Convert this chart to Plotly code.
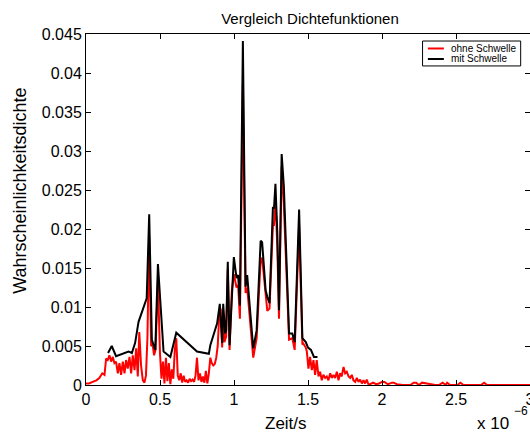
import plotly.graph_objects as go

# x values in units of 1e-6 s
black_t = [0.149, 0.174, 0.203, 0.287, 0.31, 0.332, 0.355, 0.41, 0.427, 0.445, 0.468, 0.486,
           0.524, 0.57, 0.61, 0.75, 0.83, 0.84, 0.886, 0.904, 0.92, 0.927, 0.94, 0.947, 0.958,
           0.97, 0.999, 1.017, 1.028, 1.04, 1.06, 1.078, 1.089, 1.107, 1.13, 1.153, 1.18, 1.19,
           1.214, 1.225, 1.24, 1.263, 1.27, 1.28, 1.293, 1.304, 1.322, 1.337, 1.372, 1.394,
           1.41, 1.44, 1.462, 1.485, 1.5, 1.52, 1.54, 1.564]
black_p = [0.0041, 0.005, 0.0037, 0.0043, 0.0041, 0.0054, 0.0081, 0.0111, 0.0219, 0.0058,
           0.0045, 0.0155, 0.0043, 0.0036, 0.0067, 0.0043, 0.004, 0.0051, 0.0079, 0.0104,
           0.0054, 0.0104, 0.0066, 0.007, 0.0158, 0.0051, 0.0164, 0.0137, 0.0141, 0.0102,
           0.0441, 0.0126, 0.0141, 0.0096, 0.0047, 0.007, 0.0185, 0.0183, 0.0121, 0.0113,
           0.0105, 0.0228, 0.0226, 0.0258, 0.0194, 0.0096, 0.0296, 0.0254, 0.0066, 0.0066,
           0.0055, 0.0225, 0.006, 0.0055, 0.0048, 0.0045, 0.0036, 0.0036]

red_t = [0.0, 0.02, 0.045, 0.07, 0.09, 0.11, 0.125, 0.136, 0.147, 0.158, 0.17, 0.181, 0.192,
         0.203, 0.215, 0.226, 0.237, 0.249, 0.26, 0.271, 0.282, 0.294, 0.305, 0.316, 0.328,
         0.339, 0.35, 0.36, 0.372, 0.384, 0.395, 0.405, 0.415, 0.427, 0.44, 0.45, 0.46, 0.47,
         0.486, 0.5, 0.51, 0.52, 0.53, 0.54, 0.55, 0.56, 0.57, 0.58, 0.59, 0.6, 0.61, 0.62,
         0.63, 0.64, 0.65, 0.66, 0.67, 0.68, 0.69, 0.7, 0.71, 0.72, 0.73, 0.74, 0.75, 0.76,
         0.77, 0.78, 0.79, 0.8, 0.81, 0.82, 0.83, 0.84, 0.85, 0.86, 0.87, 0.88, 0.89, 0.9,
         0.91, 0.92, 0.927, 0.935, 0.947, 0.958, 0.97, 0.985, 0.999, 1.017, 1.028, 1.04,
         1.06, 1.078, 1.089, 1.107, 1.13, 1.153, 1.18, 1.19, 1.214, 1.225, 1.24, 1.263, 1.27,
         1.28, 1.293, 1.304, 1.322, 1.337, 1.372, 1.394, 1.41, 1.44, 1.462, 1.469, 1.485,
         1.492, 1.503, 1.514, 1.526, 1.537, 1.548, 1.559, 1.571, 1.582, 1.593, 1.604, 1.616,
         1.627, 1.638, 1.65, 1.661, 1.672, 1.683, 1.695, 1.706, 1.717, 1.728, 1.74, 1.751,
         1.762, 1.774, 1.785, 1.796, 1.807, 1.819, 1.83, 1.841, 1.852, 1.864, 1.875, 1.886,
         1.897, 1.908, 1.92, 1.94, 1.96, 1.98, 2.0, 2.016, 2.04, 2.068, 2.079, 2.1, 2.14,
         2.18, 2.192, 2.214, 2.23, 2.25, 2.27, 2.36, 2.384, 2.41, 2.43, 2.44, 2.46, 2.51,
         2.53, 2.55, 2.67, 2.69, 2.71, 2.85, 3.0]
red_p = [0.0002, 0.0002, 0.0004, 0.0006, 0.0009, 0.0015, 0.0013, 0.0034, 0.0032, 0.0038,
         0.003, 0.0036, 0.0028, 0.003, 0.0015, 0.0028, 0.0013, 0.003, 0.0015, 0.0032, 0.0021,
         0.0036, 0.0015, 0.0038, 0.0019, 0.0047, 0.0011, 0.0068, 0.0025, 0.0006, 0.0003,
         0.0012, 0.006, 0.019, 0.005, 0.0052, 0.0038, 0.0045, 0.0135, 0.004, 0.0008, 0.003,
         0.0002, 0.0035, 0.0005, 0.0028, 0.0001, 0.002, 0.0008, 0.0045, 0.006, 0.0012,
         0.0006, 0.0015, 0.0003, 0.0012, 0.0004, 0.0006, 0.0003, 0.0008, 0.0005, 0.0007,
         0.0004, 0.0012, 0.0035, 0.0006, 0.0015, 0.0004, 0.0011, 0.0003, 0.0018, 0.0002,
         0.0015, 0.0035, 0.0028, 0.0025, 0.0027, 0.0035, 0.005, 0.0088, 0.0098, 0.0048,
         0.0095, 0.0055, 0.0062, 0.0148, 0.0045, 0.012, 0.0142, 0.0125, 0.0128, 0.0085,
         0.0385, 0.0118, 0.0125, 0.0085, 0.0035, 0.006, 0.016, 0.0163, 0.011, 0.0095, 0.0098,
         0.0205, 0.0205, 0.024, 0.0175, 0.0085, 0.028, 0.023, 0.0058, 0.006, 0.0045, 0.0205,
         0.0052, 0.0053, 0.0048, 0.0043, 0.0021, 0.0036, 0.0019, 0.0032, 0.0013, 0.0032,
         0.0011, 0.0017, 0.0006, 0.0013, 0.0009, 0.0011, 0.0006, 0.0015, 0.0009, 0.0013,
         0.0009, 0.0017, 0.0006, 0.0015, 0.0011, 0.0023, 0.0015, 0.0017, 0.0011, 0.0009,
         0.0013, 0.0006, 0.0004, 0.0009, 0.0004, 0.0007, 0.0002, 0.0006, 0.0002, 0.0007,
         0.0001, 0.0001, 0.0003, 0.0001, 0.0002, 0.0004, 0.0004, 0.0001, 0.0003, 0.0003,
         0.0001, 0.0, 0.0, 0.0, 0.0003, 0.0003, 0.0, 0.0003, 0.0, 0.0, 0.0003, 0.0, 0.0003,
         0.0, 0.0, 0.0003, 0.0, 0.0, 0.0003, 0.0, 0.0, 0.0]

x_ticks = [0, 0.5, 1, 1.5, 2, 2.5, 3]
x_tick_labels = ["0", "0.5", "1", "1.5", "2", "2.5", "3"]
y_ticks = [0, 0.005, 0.01, 0.015, 0.02, 0.025, 0.03, 0.035, 0.04, 0.045]
y_tick_labels = ["0", "0.005", "0.01", "0.015", "0.02", "0.025", "0.03", "0.035", "0.04", "0.045"]
series_names = ["ohne Schwelle", "mit Schwelle"]
series_colors = ["#ff0000", "#000000"]

FONT = "Liberation Sans, Arial, Helvetica, sans-serif"

fig = go.Figure()
fig.add_trace(go.Scatter(x=red_t, y=red_p, mode="lines", name=series_names[0],
                         line=dict(color=series_colors[0], width=2), showlegend=False))
fig.add_trace(go.Scatter(x=black_t, y=black_p, mode="lines", name=series_names[1],
                         line=dict(color=series_colors[1], width=2), showlegend=False))

axis_common = dict(showline=True, linecolor="black", linewidth=1, mirror="ticks",
                   ticks="inside", ticklen=5, tickcolor="black", showgrid=False,
                   zeroline=False, automargin=False, ticklabeloverflow="allow",
                   tickfont=dict(family=FONT, size=16, color="black"))

fig.update_layout(
    width=530, height=432,
    margin=dict(l=86, r=0, t=34, b=47, autoexpand=False),
    paper_bgcolor="white", plot_bgcolor="white",
    font=dict(family=FONT, color="black"),
    title=dict(text="Vergleich Dichtefunktionen", x=(310 / 530), xanchor="center",
               y=1 - 19 / 432, yanchor="middle", font=dict(size=15, family=FONT)),
    xaxis=dict(range=[0, 3], tickvals=x_ticks, ticktext=x_tick_labels, **axis_common),
    yaxis=dict(range=[0, 0.045], tickvals=y_ticks, ticktext=y_tick_labels, **axis_common),
    showlegend=False,
)

# axis labels (MATLAB-like placement)
fig.add_annotation(xref="paper", yref="paper", x=0.45, y=-0.111, xanchor="center",
                   yanchor="middle", showarrow=False, text="Zeit/s",
                   font=dict(size=17, family=FONT, color="black"))
fig.add_annotation(xref="paper", yref="paper", x=-0.149, y=(385 - 191) / 351,
                   xanchor="center", yanchor="middle", showarrow=False,
                   text="Wahrscheinlichkeitsdichte", textangle=-90,
                   font=dict(size=18, family=FONT, color="black"))
fig.add_annotation(xref="paper", yref="paper", x=(511 - 86) / 444, y=(385 - 423) / 351,
                   xanchor="right", yanchor="middle", showarrow=False, text="x 10",
                   font=dict(size=17, family=FONT, color="black"))
fig.add_annotation(xref="paper", yref="paper", x=(512 - 86) / 444, y=(385 - 411) / 351,
                   xanchor="left", yanchor="middle", showarrow=False, text="−6",
                   font=dict(size=12, family=FONT, color="black"))

# legend box (MATLAB style)
fig.add_shape(type="rect", xref="paper", yref="paper", x0=0.758, x1=0.979, y0=0.909,
              y1=0.980, line=dict(color="black", width=1), fillcolor="white", layer="above")
for i, (nm, col) in enumerate(zip(series_names, series_colors)):
    yy = 0.9587 - i * 0.0299
    fig.add_shape(type="line", xref="paper", yref="paper", x0=0.770, x1=0.806, y0=yy, y1=yy,
                  line=dict(color=col, width=2), layer="above")
    fig.add_annotation(xref="paper", yref="paper", x=0.818, y=yy, xanchor="left",
                       yanchor="middle", showarrow=False, text=nm,
                       font=dict(size=10, family=FONT, color="black"))

fig.write_html("out.html", config={"displayModeBar": False},
               post_script="document.body.style.margin='0';document.body.style.overflow='hidden';")
